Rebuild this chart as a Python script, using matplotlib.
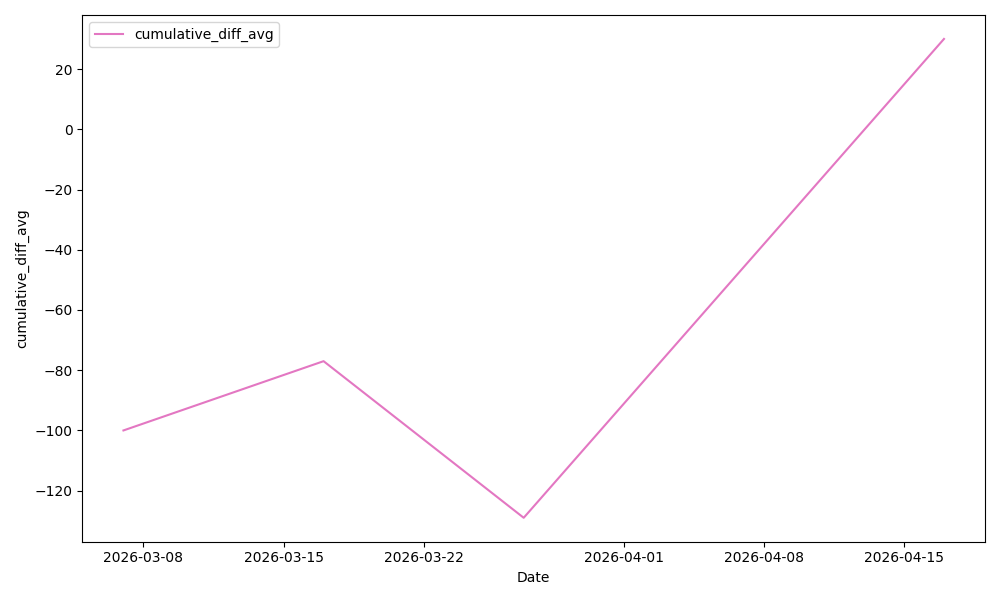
import matplotlib
matplotlib.use("Agg")
import matplotlib.pyplot as plt
import pandas as pd

dates = ["2026-03-07", "2026-03-17", "2026-03-27", "2026-04-17"]
values = [-100, -77, -129, 30]

df = pd.DataFrame({"Date": pd.to_datetime(dates), "cumulative_diff_avg": values})

fig, ax = plt.subplots(figsize=(10, 6), dpi=100)
ax.plot(df["Date"], df["cumulative_diff_avg"], color="#e377c2", label="cumulative_diff_avg")
ax.set_xlabel("Date")
ax.set_ylabel("cumulative_diff_avg")
ax.legend(loc="upper left")
fig.tight_layout()
fig.savefig("out.png")
